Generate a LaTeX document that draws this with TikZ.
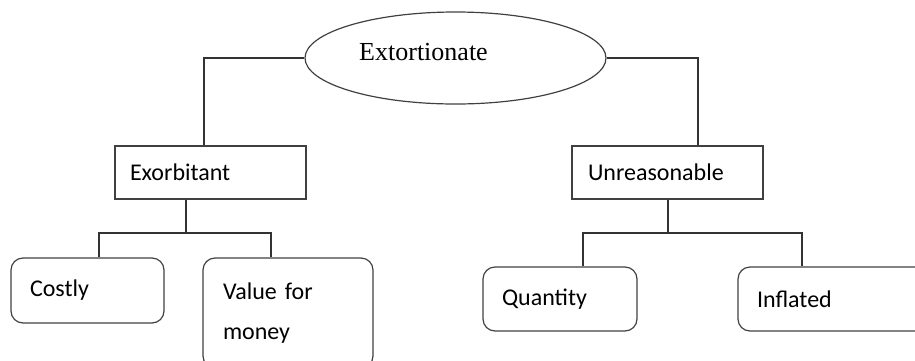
\documentclass[tikz,border=0pt]{standalone}
\usepackage{fontspec}
\setmainfont{Carlito}
\newfontfamily\timesfont{Liberation Serif}
\usetikzlibrary{shapes.geometric}
\tikzset{
  wordbox/.style={draw=black!75, line width=1.2pt, rectangle, font=\fontsize{24}{28}\selectfont, align=left, inner ysep=0pt},
  roundbox/.style={wordbox, rounded corners=12pt},
  link/.style={draw=black!80, line width=1.2pt}
}
\begin{document}
\begin{tikzpicture}[x=1pt,y=-1pt]
          \useasboundingbox (0,0) rectangle (915,360);
          \node[draw=black!75, line width=1.2pt, ellipse, minimum width=301pt, minimum height=92pt, inner sep=0pt] (extort) at (455.5,58) {};
          \node[font=\timesfont\fontsize{26}{30}\selectfont, inner sep=0pt] (extorttext) at (423.5,52) {Extortionate};

          \node[wordbox, minimum width=191pt, minimum height=53pt, inner xsep=15pt, text width=161pt] (exorb) at (210.5,172.5) {Exorbitant};
          \node[wordbox, minimum width=191pt, minimum height=53pt, inner xsep=16pt, text width=159pt] (unreas) at (667.5,172.5) {Unreasonable};

          \node[roundbox, minimum width=153pt, minimum height=65pt, inner xsep=19pt, text width=115pt] (costly) at (87.5,290.5) {Costly};
          \node[roundbox, minimum width=170pt, minimum height=110pt, inner xsep=20pt, text width=130pt, font=\fontsize{24}{40}\selectfont] (value) at (288,313) {Value for\\money};
          \node[roundbox, minimum width=154pt, minimum height=64pt, inner xsep=19pt, text width=116pt] (quant) at (560,299) {Quantity};
          \node[roundbox, minimum width=260pt, minimum height=64pt, inner xsep=19pt, text width=222pt] (inflat) at (868,299) {Inflated};

          \coordinate (leftbus) at (186,233);
          \coordinate (rightbus) at (668,233);
          \draw[link] (extort.west) -| ([xshift=-6.5pt]exorb.north);
          \draw[link] (extort.east) -| ([xshift=30.5pt]unreas.north);
          \draw[link] ([xshift=-24.5pt]exorb.south) -- (leftbus);
          \draw[link] ([xshift=11.5pt]costly.north) |- (leftbus) -| ([xshift=-17pt]value.north);
          \draw[link] ([xshift=0.5pt]unreas.south) -- (rightbus);
          \draw[link] ([xshift=23pt]quant.north) |- (rightbus) -| ([xshift=-66pt]inflat.north);
        \end{tikzpicture}
\end{document}
